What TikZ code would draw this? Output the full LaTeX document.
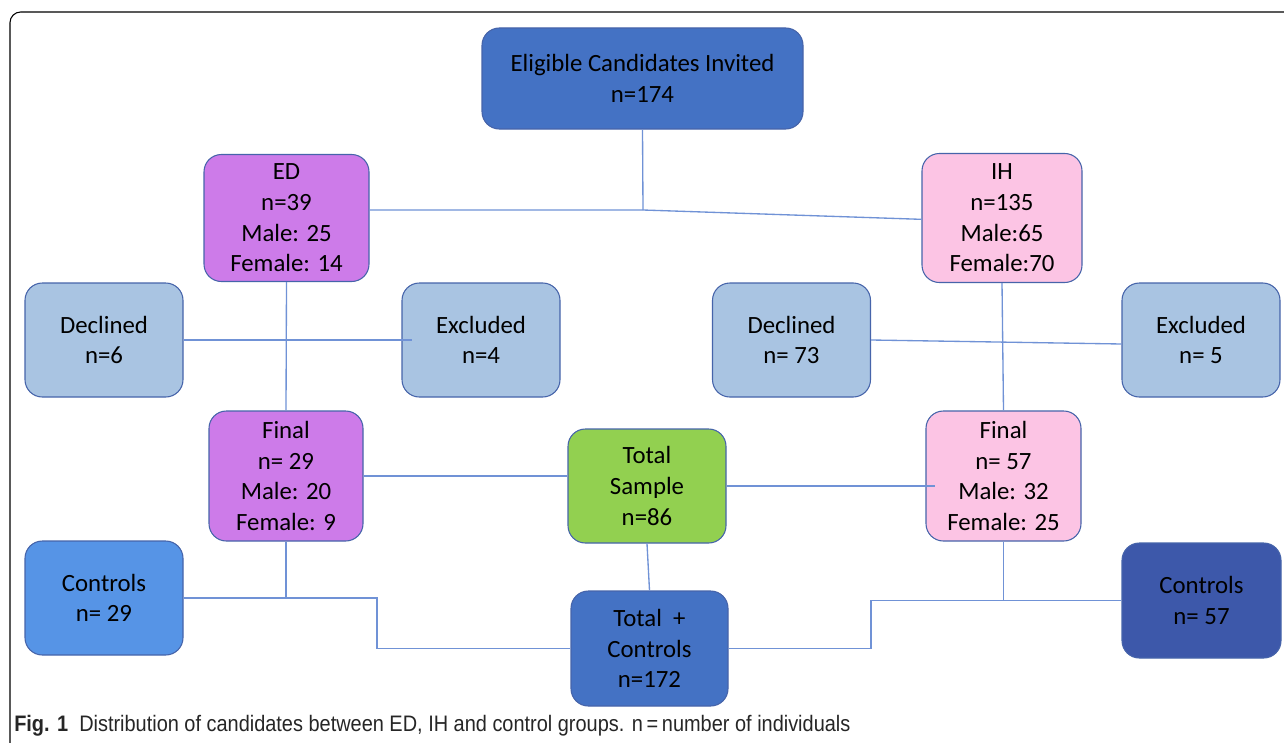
\documentclass[tikz,border=0pt]{standalone}
\usepackage{fontspec}
\newfontfamily\boxfont{Carlito}
\newfontfamily\capfont[FakeStretch=0.89]{Liberation Sans}
\definecolor{topc}{RGB}{68,114,196}
\definecolor{edc}{RGB}{205,123,233}
\definecolor{ihc}{RGB}{252,196,228}
\definecolor{decc}{RGB}{169,196,226}
\definecolor{tsc}{RGB}{146,208,80}
\definecolor{ctlc}{RGB}{86,148,230}
\definecolor{ctrc}{RGB}{61,88,170}
\definecolor{bordc}{RGB}{70,100,170}
\definecolor{linec}{RGB}{112,146,214}
\tikzset{
  box/.style={draw=bordc, line width=0.8pt, rounded corners=13pt, align=center,
    inner sep=0pt, font=\boxfont\fontsize{18.6}{23}\selectfont, text=black},
  conn/.style={draw=linec, line width=1pt},
}
\begin{document}
\begin{tikzpicture}[x=0.75pt,y=-0.75pt]
\useasboundingbox (0,0) rectangle (1284,742);
\fill[white] (0,0) rectangle (1284,742);
\draw[black, line width=0.8pt, rounded corners=8pt] (10,760) -- (10,12) -- (1320,12);

\node[box, fill=topc, minimum width=240.75pt, minimum height=75.75pt] (top) at (642.5,78.5) {Eligible Candidates Invited\\n=174};
\node[box, fill=edc, minimum width=123.75pt, minimum height=95.25pt] (ED) at (286.5,218) {ED\\n=39\\Male: 25\\Female: 14};
\node[box, fill=ihc, minimum width=120pt, minimum height=96.75pt] (IH) at (1002,218) {IH\\n=135\\Male:65\\Female:70};
\node[box, fill=decc, minimum width=118.5pt, minimum height=85.5pt] (decL) at (104,340) {Declined\\n=6};
\node[box, fill=decc, minimum width=118.5pt, minimum height=85.5pt] (excL) at (481,340) {Excluded\\n=4};
\node[box, fill=decc, minimum width=118.5pt, minimum height=85.5pt] (decR) at (791.5,340) {Declined\\n= 73};
\node[box, fill=decc, minimum width=118.5pt, minimum height=85.5pt] (excR) at (1201,340) {Excluded\\n= 5};
\node[box, fill=edc, minimum width=115.5pt, minimum height=97.5pt] (finL) at (286,476) {Final\\n= 29\\Male: 20\\Female: 9};
\node[box, fill=tsc, minimum width=118.5pt, minimum height=85.5pt] (ts) at (647,486) {Total\\Sample\\n=86};
\node[box, fill=ihc, minimum width=116.25pt, minimum height=97.5pt] (finR) at (1003.5,476) {Final\\n= 57\\Male: 32\\Female: 25};
\node[box, fill=ctlc, minimum width=118.5pt, minimum height=85.5pt] (ctlL) at (104,598) {Controls\\n= 29};
\node[box, fill=topc, minimum width=117.75pt, minimum height=86.25pt] (tc) at (649.5,648.5) {Total\ \ +\\Controls\\n=172};
\node[box, fill=ctrc, minimum width=119.25pt, minimum height=86.25pt] (ctlR) at (1201.5,600.5) {Controls\\n= 57};

\coordinate (j1) at (643,210);
\coordinate (bl) at (377,598);
\coordinate (br) at (871,600.5);

\draw[conn] (top.south) -- (j1);
\draw[conn] (ED.east |- j1) -- (j1) -- ([yshift=-1pt]IH.west);
\draw[conn] (ED.south) -- (finL.north);
\draw[conn] (decL.east) -- ([xshift=8pt]excL.west);
\draw[conn] (IH.south) -- (finR.north);
\draw[conn] (decR.east) -- ([yshift=-3pt]excR.west);
\draw[conn] (finL.east) -- (finL.east -| ts.west);
\draw[conn] (ts.east) -- ([xshift=7pt]ts.east -| finR.west);
\draw[conn] (ts.south) -- (tc.north);
\draw[conn] (finL.south) -- (finL.south |- ctlL.east);
\draw[conn] (ctlL.east) -- (bl) |- (tc.west);
\draw[conn] (finR.south) -- (finR.south |- ctlR.west);
\draw[conn] (ctlR.west) -- (br) |- (tc.east);

\node[anchor=base west, inner sep=0pt, font=\capfont\fontsize{16.8}{19}\selectfont, text=black!85] (cap) at (14,731) {\textbf{Fig. 1}\ \ Distribution of candidates between ED, IH and control groups. n\,=\,number of individuals};
\end{tikzpicture}
\end{document}
